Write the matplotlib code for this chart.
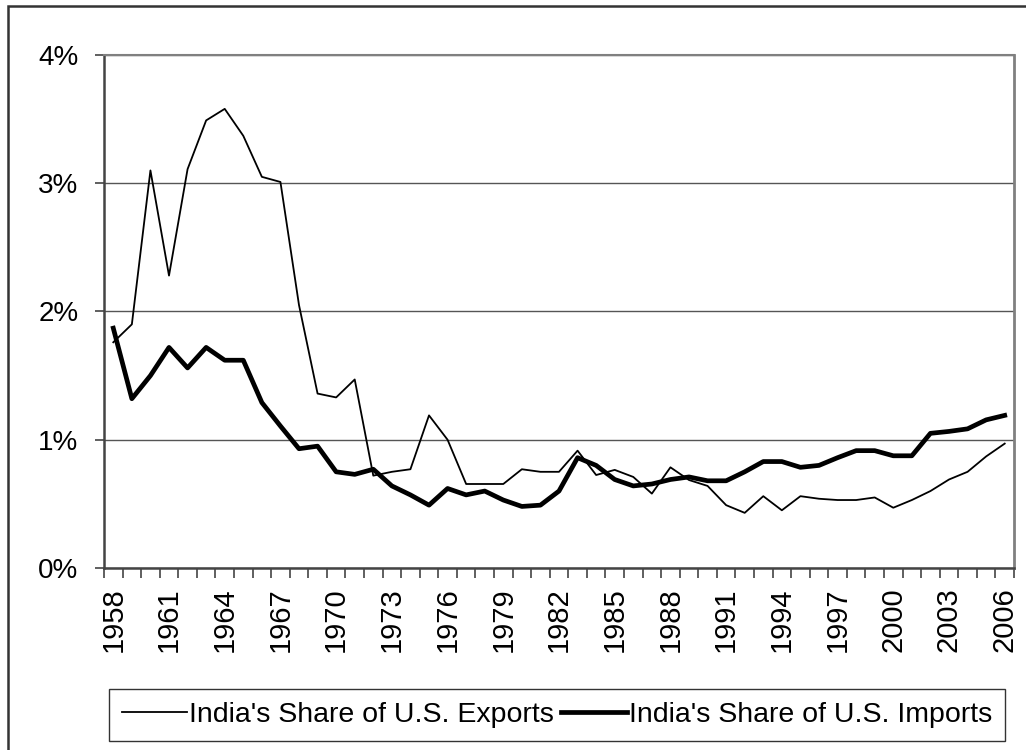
import matplotlib
matplotlib.use("Agg")
import matplotlib.pyplot as plt
from matplotlib.patches import Rectangle
from matplotlib.ticker import FuncFormatter

plt.rcParams['font.family'] = ['Liberation Sans', 'DejaVu Sans']

# India's share of U.S. trade, percent
years = list(range(1958, 2007))
exports = [1.76, 1.90, 3.10, 2.28, 3.11, 3.49, 3.58, 3.37, 3.05, 3.01,
           2.05, 1.36, 1.33, 1.47, 0.72, 0.75, 0.77, 1.19, 1.00, 0.655,
           0.655, 0.655, 0.77, 0.75, 0.75, 0.915, 0.725, 0.765, 0.71, 0.58,
           0.785, 0.686, 0.64, 0.49, 0.43, 0.56, 0.45, 0.56, 0.54, 0.53,
           0.53, 0.55, 0.47, 0.53, 0.60, 0.69, 0.75, 0.87, 0.97]
imports = [1.87, 1.32, 1.50, 1.72, 1.56, 1.72, 1.62, 1.62, 1.29, 1.107,
           0.93, 0.95, 0.75, 0.73, 0.77, 0.64, 0.57, 0.49, 0.62, 0.57,
           0.60, 0.53, 0.48, 0.49, 0.60, 0.86, 0.80, 0.69, 0.64, 0.655,
           0.69, 0.71, 0.68, 0.68, 0.75, 0.83, 0.83, 0.785, 0.80, 0.86,
           0.915, 0.915, 0.875, 0.875, 1.05, 1.065, 1.085, 1.155, 1.19]
yticks = [0, 1, 2, 3, 4]

W, H = 1026, 750
fig = plt.figure(figsize=(W / 100, H / 100), dpi=100)
ax = fig.add_axes([104 / W, 1 - 568 / H, (1014 - 104) / W, (568 - 55) / H])

x = list(range(len(years)))
ax.plot(x, exports, color='black', lw=1.3, label="India's Share of U.S. Exports")
ax.plot(x, imports, color='black', lw=3.4, label="India's Share of U.S. Imports")

ax.set_xlim(-0.5, len(years) - 0.5)
ax.set_ylim(0, 4)

# y axis
ax.set_yticks(yticks)
ax.yaxis.set_major_formatter(FuncFormatter(lambda v, p: f"{v:.0f}%"))
ax.tick_params(axis='y', length=6.5, width=1.2, color='#444444', pad=12, labelsize=20)
ax.grid(axis='y', color='#555555', lw=1.0)
ax.set_axisbelow(True)

# x axis: tick marks between categories, labels every 3 years
ax.set_xticks([i - 0.5 for i in range(len(years) + 1)])
ax.set_xticklabels([])
ax.tick_params(axis='x', which='major', length=7, width=1.2, color='#444444')
ax.set_xticks(x[::3], minor=True)
ax.set_xticklabels([str(y) for y in years[::3]], minor=True, rotation=90)
ax.tick_params(axis='x', which='minor', length=0, pad=14, labelsize=21)

for side in ['left', 'bottom']:
    ax.spines[side].set_color('#444444')
    ax.spines[side].set_linewidth(1.8)
ax.spines['top'].set_color('#808080')
ax.spines['top'].set_linewidth(1.5)
ax.spines['right'].set_color('#808080')
ax.spines['right'].set_linewidth(2.0)

# outer chart border
fig.patches.append(Rectangle((8 / W, -0.1), 1.2, 1 - 6 / H + 0.1, transform=fig.transFigure,
                             fill=False, edgecolor='#333333', lw=1.8))

leg = fig.legend(loc='center', bbox_to_anchor=(557 / W, 1 - 715 / H), ncol=2,
                 frameon=True, fancybox=False, fontsize=20.5, handlelength=2.3,
                 handletextpad=0.08, columnspacing=0.25, borderpad=0.45)
leg.get_frame().set_edgecolor('black')
leg.get_frame().set_linewidth(1.0)

fig.savefig("out.png", dpi=100)
